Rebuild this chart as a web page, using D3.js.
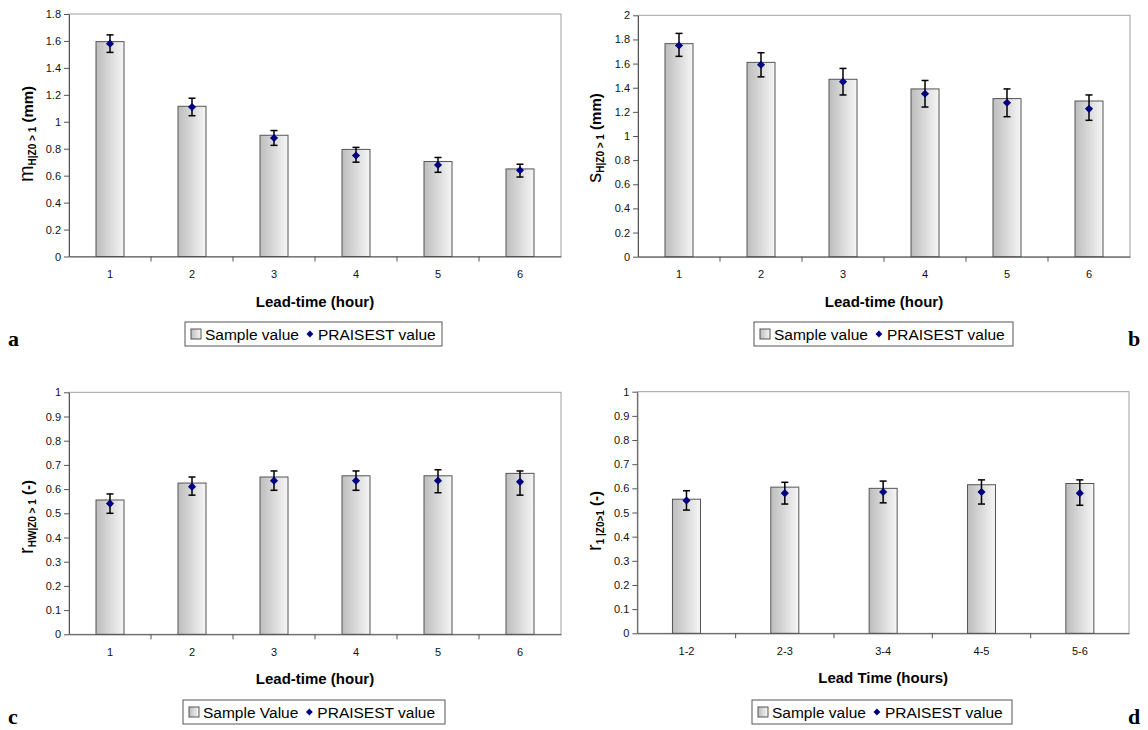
<!DOCTYPE html>
<html>
<head>
<meta charset="utf-8">
<script src="https://cdn.jsdelivr.net/npm/d3@7"></script>
<style>
  body { margin: 0; background: #fff; }
  svg { font-family: Arial, "Liberation Sans", sans-serif; }
</style>
</head>
<body>
<svg id="chart" width="1148" height="730"></svg>
<script>
// ---- data ----
var hoursA = ["1", "2", "3", "4", "5", "6"];
var sampleA = [1.595, 1.115, 0.90, 0.795, 0.705, 0.65];
var praisA = [1.58, 1.11, 0.88, 0.75, 0.68, 0.64];
var lowA = [1.515, 1.045, 0.825, 0.70, 0.625, 0.59];
var highA = [1.645, 1.175, 0.935, 0.81, 0.735, 0.685];
var ticksA = [0, 0.2, 0.4, 0.6, 0.8, 1, 1.2, 1.4, 1.6, 1.8];

var hoursB = ["1", "2", "3", "4", "5", "6"];
var sampleB = [1.765, 1.61, 1.47, 1.39, 1.31, 1.29];
var praisB = [1.75, 1.59, 1.45, 1.35, 1.275, 1.225];
var lowB = [1.66, 1.49, 1.34, 1.24, 1.16, 1.13];
var highB = [1.85, 1.69, 1.56, 1.46, 1.39, 1.34];
var ticksB = [0, 0.2, 0.4, 0.6, 0.8, 1, 1.2, 1.4, 1.6, 1.8, 2];

var hoursC = ["1", "2", "3", "4", "5", "6"];
var sampleC = [0.555, 0.625, 0.65, 0.655, 0.655, 0.665];
var praisC = [0.54, 0.61, 0.635, 0.635, 0.635, 0.63];
var lowC = [0.50, 0.575, 0.595, 0.595, 0.585, 0.575];
var highC = [0.58, 0.65, 0.675, 0.675, 0.68, 0.675];
var ticksC = [0, 0.1, 0.2, 0.3, 0.4, 0.5, 0.6, 0.7, 0.8, 0.9, 1];

var hoursD = ["1-2", "2-3", "3-4", "4-5", "5-6"];
var sampleD = [0.555, 0.605, 0.60, 0.615, 0.62];
var praisD = [0.55, 0.58, 0.585, 0.585, 0.58];
var lowD = [0.51, 0.535, 0.54, 0.535, 0.53];
var highD = [0.59, 0.625, 0.63, 0.635, 0.635];
var ticksD = [0, 0.1, 0.2, 0.3, 0.4, 0.5, 0.6, 0.7, 0.8, 0.9, 1];

var svg = d3.select("#chart");

// bar gradient (grey to near white, like Excel fill)
var defs = svg.append("defs");
var grad = defs.append("linearGradient").attr("id", "barFill")
    .attr("x1", "0%").attr("x2", "100%").attr("y1", "0%").attr("y2", "0%");
grad.append("stop").attr("offset", "0%").attr("stop-color", "#bdbdbd");
grad.append("stop").attr("offset", "100%").attr("stop-color", "#f6f6f6");

var fmt = function(d) { return String(+d.toFixed(2)); };

function drawPanel(p) {
    var x = d3.scaleBand().domain(p.cats).range([p.left, p.right]).padding(0);
    var y = d3.scaleLinear().domain([0, p.ymax]).range([p.bottom, p.top]);
    var g = svg.append("g");
    var barW = 28;

    // plot area border (light)
    g.append("rect")
        .attr("x", p.left).attr("y", p.top)
        .attr("width", p.right - p.left).attr("height", p.bottom - p.top)
        .attr("fill", "none").attr("stroke", "#a0a0a0").attr("stroke-width", 1);

    // bars
    g.selectAll("rect.bar")
        .data(p.sample)
        .enter()
        .append("rect")
            .attr("class", "bar")
            .attr("x", function(d, i) { return x(p.cats[i]) + x.bandwidth() / 2 - barW / 2; })
            .attr("y", function(d) { return y(d); })
            .attr("width", barW)
            .attr("height", function(d) { return p.bottom - y(d); })
            .attr("fill", "url(#barFill)")
            .attr("stroke", "#555")
            .attr("stroke-width", 1);

    // error bars
    var eb = g.selectAll("g.err")
        .data(p.cats)
        .enter()
        .append("g")
            .attr("class", "err");
    eb.append("line")
        .attr("x1", function(d) { return x(d) + x.bandwidth() / 2; })
        .attr("x2", function(d) { return x(d) + x.bandwidth() / 2; })
        .attr("y1", function(d, i) { return y(p.low[i]); })
        .attr("y2", function(d, i) { return y(p.high[i]); })
        .attr("stroke", "#000").attr("stroke-width", 1.5);
    [p.low, p.high].forEach(function(arr) {
        eb.append("line")
            .attr("x1", function(d) { return x(d) + x.bandwidth() / 2 - 3.5; })
            .attr("x2", function(d) { return x(d) + x.bandwidth() / 2 + 3.5; })
            .attr("y1", function(d, i) { return y(arr[i]); })
            .attr("y2", function(d, i) { return y(arr[i]); })
            .attr("stroke", "#000").attr("stroke-width", 1.5);
    });

    // PRAISEST markers
    g.selectAll("path.mk")
        .data(p.prais)
        .enter()
        .append("path")
            .attr("class", "mk")
            .attr("d", d3.symbol().type(d3.symbolDiamond2).size(42))
            .attr("transform", function(d, i) {
                return "translate(" + (x(p.cats[i]) + x.bandwidth() / 2) + "," + y(d) + ")";
            })
            .attr("fill", "#000080");

    // y axis
    var ya = g.append("g")
        .attr("transform", "translate(" + p.left + ",0)")
        .call(d3.axisLeft(y).tickValues(p.ticks).tickFormat(fmt).tickSize(5).tickSizeOuter(0));
    ya.select(".domain").attr("stroke", "#555");
    ya.selectAll(".tick line").attr("stroke", "#555");
    ya.selectAll(".tick text").attr("font-size", 11).attr("fill", "#111")
        .attr("font-family", "Arial, 'Liberation Sans', sans-serif").attr("x", -8);

    // x axis: labels at centres, ticks at category boundaries
    var xa = g.append("g")
        .attr("transform", "translate(0," + p.bottom + ")")
        .call(d3.axisBottom(x).tickSize(0).tickPadding(14));
    xa.select(".domain").attr("stroke", "#555");
    xa.selectAll(".tick text").attr("font-size", 11).attr("fill", "#111")
        .attr("font-family", "Arial, 'Liberation Sans', sans-serif");
    g.selectAll("line.xt")
        .data(p.cats.slice(1))
        .enter()
        .append("line")
            .attr("class", "xt")
            .attr("x1", function(d) { return x(d); })
            .attr("x2", function(d) { return x(d); })
            .attr("y1", p.bottom).attr("y2", p.bottom + 5)
            .attr("stroke", "#555");

    // x title
    g.append("text")
        .attr("x", (p.left + p.right) / 2)
        .attr("y", p.bottom + 50)
        .attr("text-anchor", "middle")
        .attr("font-size", 15).attr("font-weight", "bold")
        .text(p.xTitle);

    // y title
    var yt = g.append("text")
        .attr("transform", "translate(" + p.yTitleX + "," + p.yTitleY + ") rotate(-90)")
        .attr("text-anchor", "middle")
        .attr("font-weight", "bold");
    yt.append("tspan").attr("font-size", p.symSize).attr("font-weight", "normal").text(p.ySym);
    yt.append("tspan").attr("font-size", 10).attr("dy", 3).text(p.ySub);
    yt.append("tspan").attr("font-size", 15).attr("dy", -3).text(" " + p.yUnit);

    // legend
    var lg = g.append("g").attr("transform", "translate(" + p.legX + "," + p.legY + ")");
    lg.append("rect").attr("width", p.legW).attr("height", 24)
        .attr("fill", "#fff").attr("stroke", "#555");
    lg.append("rect").attr("x", 6).attr("y", 7).attr("width", 10).attr("height", 10)
        .attr("fill", "url(#barFill)").attr("stroke", "#555");
    lg.append("text").attr("x", 20).attr("y", 17.5).attr("font-size", 15.5).text(p.legSample);
    var t1 = lg.select("text").node().getComputedTextLength();
    lg.append("path")
        .attr("d", d3.symbol().type(d3.symbolDiamond2).size(30))
        .attr("transform", "translate(" + (20 + t1 + 11) + ",12)")
        .attr("fill", "#000080");
    lg.append("text").attr("x", 20 + t1 + 19).attr("y", 17.5).attr("font-size", 15.5).text("PRAISEST value");

    // panel letter
    svg.append("text")
        .attr("x", p.letX).attr("y", p.letY)
        .attr("font-family", "'Times New Roman', 'Liberation Serif', serif")
        .attr("font-weight", "bold").attr("font-size", 22)
        .text(p.letter);
}

drawPanel({cats: hoursA, sample: sampleA, prais: praisA, low: lowA, high: highA, ticks: ticksA, ymax: 1.8,
    left: 69, right: 561, top: 14, bottom: 256.5,
    xTitle: "Lead-time (hour)", ySym: "m", symSize: 20, ySub: "H|Z0 > 1", yUnit: "(mm)", yTitleX: 33, yTitleY: 134,
    legX: 185, legY: 322, legW: 257, legSample: "Sample value", letter: "a", letX: 8, letY: 346});

drawPanel({cats: hoursB, sample: sampleB, prais: praisB, low: lowB, high: highB, ticks: ticksB, ymax: 2,
    left: 638, right: 1130, top: 15.3, bottom: 256.7,
    xTitle: "Lead-time (hour)", ySym: "s", symSize: 20, ySub: "H|Z0 > 1", yUnit: "(mm)", yTitleX: 601, yTitleY: 138,
    legX: 754, legY: 322, legW: 259, legSample: "Sample value", letter: "b", letX: 1128, letY: 346});

drawPanel({cats: hoursC, sample: sampleC, prais: praisC, low: lowC, high: highC, ticks: ticksC, ymax: 1,
    left: 69, right: 561, top: 392.3, bottom: 634.3,
    xTitle: "Lead-time (hour)", ySym: "r", symSize: 20, ySub: "HW|Z0 > 1", yUnit: "(-)", yTitleX: 33, yTitleY: 517,
    legX: 183, legY: 700, legW: 262, legSample: "Sample Value", letter: "c", letX: 8, letY: 724});

drawPanel({cats: hoursD, sample: sampleD, prais: praisD, low: lowD, high: highD, ticks: ticksD, ymax: 1,
    left: 637.3, right: 1129, top: 391.7, bottom: 633.3,
    xTitle: "Lead Time (hours)", ySym: "r", symSize: 20, ySub: "1 |Z0>1", yUnit: "(-)", yTitleX: 601, yTitleY: 521,
    legX: 752, legY: 700, legW: 260, legSample: "Sample value", letter: "d", letX: 1128, letY: 724});
</script>
</body>
</html>
